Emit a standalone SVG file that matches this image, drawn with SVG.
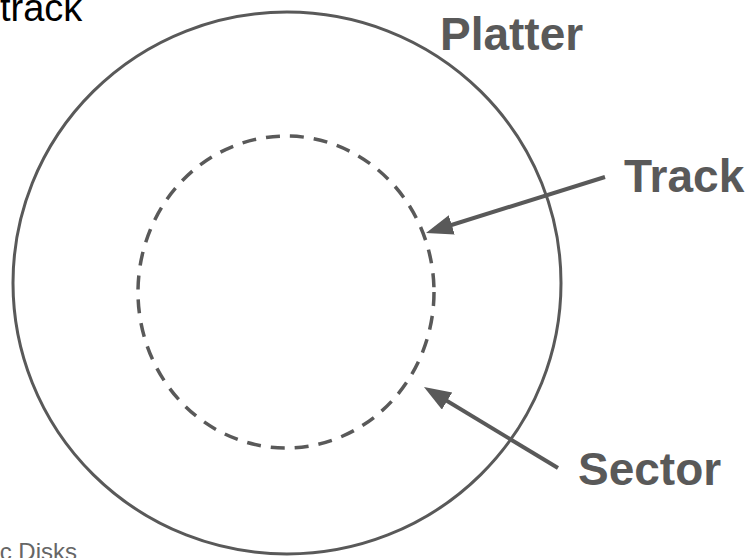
<svg xmlns="http://www.w3.org/2000/svg" width="752" height="558" viewBox="0 0 752 558">
  <style>
    .stroke { fill: none; stroke: #595959; stroke-width: 3; }
    .dash { fill: none; stroke: #595959; stroke-width: 3.5; stroke-dasharray: 14 10; }
    .label { font-family: "Liberation Sans", Arial, sans-serif; font-weight: bold; font-size: 46px; fill: #595959; }
    .conn { stroke: #595959; stroke-width: 4; fill: none; marker-end: url(#arrow); }
  </style>
  <defs>
    <marker id="arrow" markerUnits="userSpaceOnUse" markerWidth="30" markerHeight="22" refX="12" refY="10" orient="auto">
      <path d="M0,0 L27,10 L0,20 z" fill="#595959"/>
    </marker>
  </defs>
  <rect width="752" height="558" fill="#ffffff"/>
  <text x="0" y="21" font-family="Liberation Sans, Arial, sans-serif" font-size="38" fill="#000000">track</text>
  <text x="77" y="560" text-anchor="end" font-family="Liberation Sans, Arial, sans-serif" font-size="24" fill="#666666">c Disks</text>
  <g id="platter">
    <ellipse class="stroke" cx="287" cy="283" rx="274" ry="271"/>
    <text class="label" x="440" y="50">Platter</text>
  </g>
  <g id="track">
    <ellipse class="dash" cx="286" cy="292" rx="148" ry="156"/>
  </g>
  <g id="track-label">
    <text class="label" x="624" y="192">Track</text>
  </g>
  <g id="sector-label">
    <text class="label" x="578" y="485">Sector</text>
  </g>
  <g id="connectors">
    <line class="conn" x1="605" y1="177" x2="440.3" y2="228.5"/>
    <line class="conn" x1="558" y1="468" x2="436.8" y2="394.8"/>
  </g>
</svg>
